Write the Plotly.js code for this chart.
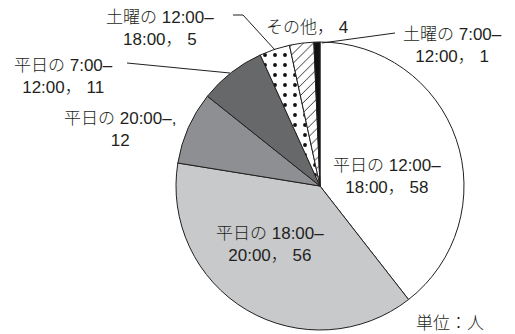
<!DOCTYPE html>
<html><head><meta charset="utf-8">
<script src="https://cdn.plot.ly/plotly-3.0.1.min.js"></script>
<style>html,body{margin:0;padding:0;background:#fff}#c{width:515px;height:334px}</style>
</head><body><div id="c"></div>
<script>
const categories = ['平日の 12:00–18:00','平日の 18:00–20:00','平日の 20:00–','平日の 7:00–12:00','土曜の 12:00–18:00','その他','土曜の 7:00–12:00'];
const values = [58, 56, 12, 11, 5, 4, 1];
const labelLine1 = ['平日の 12:00–','平日の 18:00–','平日の 20:00–,','平日の 7:00–','土曜の 12:00–','その他，','土曜の 7:00–'];
const labelLine2 = ['18:00，','20:00，','','12:00，','18:00，','','12:00，'];
const sliceColors = ['#ffffff','#c8c9cb','#8e8f92','#67686a','#ffffff','#ffffff','#111111'];
const slicePatterns = ['','','','','.','/',''];
const patternSizes = [8, 8, 8, 8, 10, 7, 8];
const unitLabel = '単位：人';

const W = 515, H = 334;
const px = x => x / W, py = y => 1 - y / H;
const FONT = {family:'Liberation Sans, Noto Sans CJK JP', size:17, color:'#231f20', weight:300};
// label anchor positions (pixels, centre of text block)
const labelPos = [[387,176],[270,244],[120,129],[63,76],[160,28],[307,27],[452,45]];

const annotations = categories.map((c, i) => {
  let t;
  if (labelLine2[i] === '' && i === 5) t = labelLine1[i] + ' ' + values[i];
  else if (labelLine2[i] === '') t = labelLine1[i] + '<br>' + values[i];
  else t = labelLine1[i] + '<br>' + labelLine2[i] + ' ' + values[i];
  return {text: t, x: px(labelPos[i][0]), y: py(labelPos[i][1]), xref:'paper', yref:'paper',
          showarrow:false, xanchor:'center', yanchor:'middle', align:'center', font: FONT};
});
annotations.push({text: unitLabel, x: px(450), y: py(323), xref:'paper', yref:'paper', showarrow:false,
  xanchor:'center', yanchor:'middle', font: FONT});

const lineStyle = {color:'#231f20', width:1};
const shapes = [
  {type:'path', xref:'paper', yref:'paper', path:`M ${px(233)} ${py(15)} L ${px(243)} ${py(15)} L ${px(275)} ${py(50)}`, line:lineStyle},
  {type:'line', xref:'paper', yref:'paper', x0:px(395), y0:py(33), x1:px(322), y1:py(43), line:lineStyle},
  {type:'line', xref:'paper', yref:'paper', x0:px(127), y0:py(63), x1:px(230), y1:py(73), line:lineStyle}
];

const trace = {
  type:'pie', labels: categories, values: values, sort:false, direction:'clockwise', rotation:0,
  textinfo:'none', hoverinfo:'label+value',
  marker:{colors: sliceColors, line:{color:'#231f20', width:1},
          pattern:{shape: slicePatterns, fgcolor:'#111', bgcolor:'#ffffff', size: patternSizes, solidity:0.12}},
  domain:{x:[(320-144)/W, (320+144)/W], y:[1-330/H, 1-42/H]}
};

Plotly.newPlot('c', [trace], {
  width: W, height: H, margin:{l:0,r:0,t:0,b:0}, showlegend:false,
  paper_bgcolor:'#fff', plot_bgcolor:'#fff', annotations: annotations, shapes: shapes
}, {staticPlot:true});
</script></body></html>
